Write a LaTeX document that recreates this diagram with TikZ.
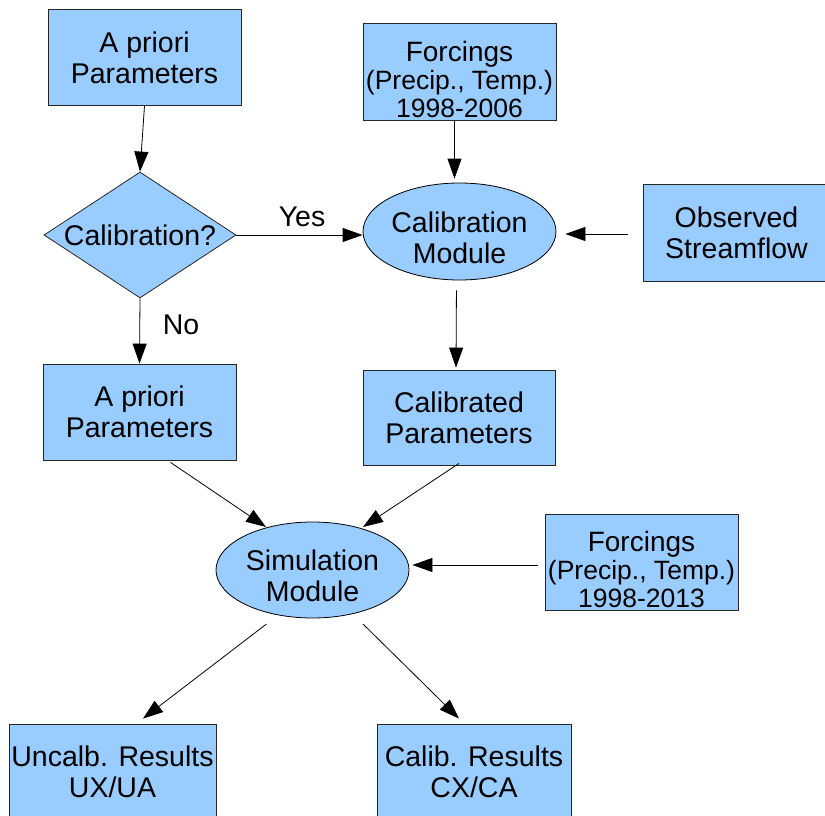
\documentclass[tikz,border=0pt]{standalone}
\usepackage{fontspec}
\setmainfont{Liberation Sans}
\usetikzlibrary{shapes.geometric,arrows.meta}
\newlength{\du}
\setlength{\du}{1pt}
\definecolor{boxfill}{rgb}{0.600000, 0.800000, 1.000000}
\tikzset{
  box/.style={draw=black!85, fill=boxfill, line width=0.8\du, inner sep=0pt,
    minimum width=193\du, minimum height=96\du, align=center,
    font=\fontsize{28.5}{31}\selectfont},
  forcbox/.style={box, font=\fontsize{26.5}{28}\selectfont},
  modcell/.style={box, shape=ellipse, draw=black},
  decide/.style={box, shape=diamond, aspect=1.52, minimum width=192\du, minimum height=126\du},
  flow/.style={draw=black, line width=0.8\du, -{Triangle[length=20pt,width=14pt]}},
  tag/.style={inner sep=0pt, font=\fontsize{28.5}{31}\selectfont}
}

\begin{document}
\begin{tikzpicture}
\useasboundingbox (0\du,0\du) rectangle (825\du,-816\du);
% boxes
\node[box] (apriori) at (144.500000\du,-57.500000\du){A priori\\Parameters};
\node[forcbox, minimum height=97\du] (forcA) at (459.500000\du,-71.500000\du){\rule{0pt}{36\du}{\fontsize{28}{28}\selectfont Forcings}\\(Precip., Temp.)\\1998-2006};
\node[decide] (calq) at (140.000000\du,-235.000000\du){Calibration?};
\node[modcell, minimum height=97\du] (calmod) at (459.500000\du,-231.500000\du){\rule{0pt}{33\du}Calibration\\Module};
\node[box, minimum width=187\du, minimum height=97\du] (obs) at (736.500000\du,-232.500000\du){Observed\\Streamflow};
\node[box] (apriori2) at (139.500000\du,-412.000000\du){A priori\\Parameters};
\node[box, minimum width=192\du, minimum height=95\du] (calibd) at (459.000000\du,-417.500000\du){Calibrated\\Parameters};
\node[modcell] (sim) at (312.500000\du,-570.000000\du){\rule{0pt}{33\du}Simulation\\Module};
\node[forcbox] (forcB) at (641.500000\du,-562.000000\du){\rule{0pt}{36\du}{\fontsize{28}{28}\selectfont Forcings}\\(Precip., Temp.)\\1998-2013};
\node[box, minimum width=207\du] (uncal) at (112.500000\du,-772.000000\du){Uncalb. Results\\UX/UA};
\node[box, minimum width=194\du] (calres) at (474.000000\du,-772.000000\du){Calib. Results\\CX/CA};
% labels
\node[tag] (yeslbl) at (302.000000\du,-217.000000\du){Yes};
\node[tag] (nolbl) at (181.000000\du,-325.000000\du){No};
% arrows
\draw[flow] (apriori.south) -- (calq.north);
\draw[flow, shorten >=4\du] ([xshift=-5\du]forcA.south) -- ([xshift=-5\du]calmod.north);
\draw[flow] (calq.east) -- (calq.east -| calmod.west);
\draw[flow, shorten <=15\du, shorten >=9\du] ([yshift=-1.5\du]obs.west) -- ([yshift=-1.5\du]obs.west -| calmod.east);
\draw[flow] (calq.south) -- (apriori2.north);
\draw[flow, shorten <=10\du, shorten >=2\du] ([xshift=-3\du]calmod.south) -- ([xshift=-3\du]calibd.north);
\draw[flow] ([xshift=31\du,yshift=-2\du]apriori2.south) -- ([xshift=-46.5\du,yshift=43\du]sim.center);
\draw[flow] ([yshift=2\du]calibd.south) -- ([xshift=50.5\du,yshift=43\du]sim.center);
\draw[flow, shorten <=7\du, shorten >=3\du] ([yshift=-3\du]forcB.west) -- ([yshift=5\du]sim.east);
\draw[flow] ([xshift=-46\du,yshift=-54\du]sim.center) -- ([xshift=30.5\du,yshift=5\du]uncal.north);
\draw[flow] ([xshift=50.5\du,yshift=-54\du]sim.center) -- ([xshift=-15\du,yshift=5\du]calres.north);
\end{tikzpicture}
\end{document}
